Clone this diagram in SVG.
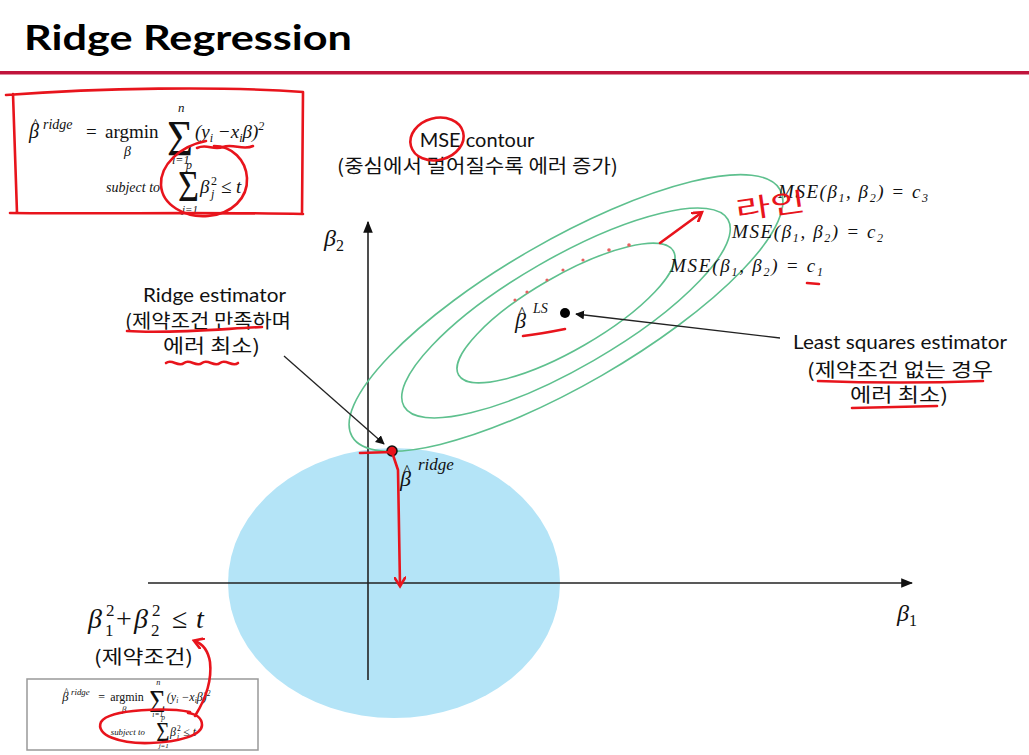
<svg xmlns="http://www.w3.org/2000/svg" xmlns:xlink="http://www.w3.org/1999/xlink" width="1029" height="755" viewBox="0 0 1029 755">
<style>
.ttl{font-family:Lato,"Open Sans",sans-serif;font-weight:bold;font-size:35px;fill:#000}
.lbl{font-family:Lato,"Noto Sans CJK KR",sans-serif;font-size:20px;fill:#111}
.kr{font-family:"Noto Sans CJK KR",sans-serif;font-size:19px;fill:#111}
.m{font-family:"Liberation Serif","DejaVu Serif",serif;font-style:italic;fill:#111}
.mr{font-family:"Liberation Serif","DejaVu Serif",serif;fill:#111}
.ell{fill:none;stroke:#5ec08e;stroke-width:1.6}
.ax{stroke:#222;stroke-width:1.6;fill:none}
.red{fill:none;stroke:#e8141c;stroke-width:2.6;stroke-linecap:round;stroke-linejoin:round}
.ptr{stroke:#222;stroke-width:1.3;fill:none}
</style>
<defs>
<marker id="ah" viewBox="0 0 10 10" refX="9" refY="5" markerWidth="9" markerHeight="9" markerUnits="userSpaceOnUse" orient="auto"><path d="M0,0 L10,5 L0,10 z" fill="#111"/></marker>
<marker id="axh" viewBox="0 0 10 10" refX="9" refY="5" markerWidth="12" markerHeight="12" markerUnits="userSpaceOnUse" orient="auto"><path d="M0,1 L10,5 L0,9 z" fill="#111"/></marker>
<marker id="rh" viewBox="0 0 10 10" refX="7" refY="5" markerWidth="12" markerHeight="12" markerUnits="userSpaceOnUse" orient="auto"><path d="M0,0 L8,5 L0,10" fill="none" stroke="#e8141c" stroke-width="2.2"/></marker>
<g id="formula">
<text class="m" x="29" y="138" font-size="20">β</text>
<text class="mr" x="32" y="129" font-size="15">^</text>
<text class="m" x="43" y="129" font-size="14">ridge</text>
<text class="mr" x="86" y="138" font-size="19">=</text>
<text class="mr" x="105" y="138" font-size="19">argmin</text>
<text class="m" x="124" y="156" font-size="14">β</text>
<text class="mr" x="167" y="155" font-size="50" textLength="26" lengthAdjust="spacingAndGlyphs">Σ</text>
<text class="m" x="178" y="112" font-size="13">n</text>
<text class="m" x="172" y="164" font-size="12">i=1</text>
<text class="m" x="195" y="138" font-size="19">(y<tspan font-size="12" dy="4">i</tspan><tspan dy="-4"> −x</tspan><tspan font-size="12" dy="4">i</tspan><tspan dy="-4">β)</tspan><tspan font-size="12" dy="-8">2</tspan></text>
<text class="m" x="106" y="192" font-size="14">subject to</text>
<text class="mr" x="178" y="201" font-size="44" textLength="21" lengthAdjust="spacingAndGlyphs">Σ</text>
<text class="m" x="186" y="169" font-size="12">p</text>
<text class="m" x="182" y="213" font-size="11">j=1</text>
<text class="m" x="200" y="193" font-size="19">β</text>
<text class="m" x="211" y="198" font-size="12">j</text>
<text class="mr" x="211" y="185" font-size="12">2</text>
<text class="mr" x="221" y="193" font-size="19">≤</text>
<text class="m" x="236" y="193" font-size="19">t</text>
</g>
</defs>

<rect width="1029" height="755" fill="#fff"/>

<g id="title">
<text class="ttl" x="24" y="50" textLength="328" lengthAdjust="spacingAndGlyphs">Ridge Regression</text>
<rect x="0" y="71" width="1029" height="3.5" fill="#c0143c"/>
</g>

<g id="constraint-region">
<ellipse cx="394" cy="583" rx="166" ry="135" fill="#b4e4f7"/>
</g>

<g id="axes">
<line class="ax" x1="148" y1="583" x2="912" y2="583" marker-end="url(#axh)"/>
<line class="ax" x1="368" y1="680" x2="368" y2="222" marker-end="url(#axh)"/>
<text class="m" x="324" y="246" font-size="24">β<tspan font-style="normal" font-size="16" dy="5">2</tspan></text>
<text class="m" x="897" y="621" font-size="24">β<tspan font-style="normal" font-size="16" dy="5">1</tspan></text>
</g>

<g id="mse-contours">
<ellipse class="ell" cx="566" cy="313" rx="124" ry="37" transform="rotate(-30 566 313)"/>
<ellipse class="ell" cx="566" cy="313" rx="187" ry="55" transform="rotate(-30 566 313)"/>
<ellipse class="ell" cx="566" cy="313" rx="247" ry="72" transform="rotate(-30 566 313)"/>
</g>

<g id="connectors">
<line class="ptr" x1="780" y1="338" x2="576" y2="314" marker-end="url(#ah)"/>
<line class="ptr" x1="284" y1="356" x2="384" y2="444" marker-end="url(#ah)"/>
</g>

<g id="ls-estimator">
<circle cx="565" cy="313" r="5" fill="#000"/>
<text class="m" x="515" y="328" font-size="22">β</text>
<text class="mr" x="518" y="318" font-size="17">^</text>
<text class="m" x="533" y="313" font-size="14">LS</text>
</g>

<g id="ridge-estimator">
<circle cx="392" cy="451" r="5" fill="#e8141c" stroke="#111" stroke-width="1.5"/>
<text class="m" x="400" y="486" font-size="22">β</text>
<text class="mr" x="403" y="476" font-size="17">^</text>
<text class="m" x="418" y="470" font-size="17">ridge</text>
</g>

<g id="mse-labels">
<text class="m" x="778" y="198" font-size="19" textLength="150" lengthAdjust="spacing">MSE(β<tspan font-size="12" dy="4">1</tspan><tspan dy="-4">, β</tspan><tspan font-size="12" dy="4">2</tspan><tspan dy="-4">) = c</tspan><tspan font-size="12" dy="4">3</tspan></text>
<text class="m" x="732" y="238" font-size="19" textLength="151" lengthAdjust="spacing">MSE(β<tspan font-size="12" dy="4">1</tspan><tspan dy="-4">, β</tspan><tspan font-size="12" dy="4">2</tspan><tspan dy="-4">) = c</tspan><tspan font-size="12" dy="4">2</tspan></text>
<text class="m" x="670" y="272" font-size="19" textLength="153" lengthAdjust="spacing">MSE(β<tspan font-size="12" dy="4">1</tspan><tspan dy="-4">, β</tspan><tspan font-size="12" dy="4">2</tspan><tspan dy="-4">) = c</tspan><tspan font-size="12" dy="4">1</tspan></text>
</g>

<g id="mse-contour-label">
<text class="lbl" x="477" y="147" text-anchor="middle" font-size="19">MSE contour</text>
<text class="kr" x="337" y="173" textLength="281" lengthAdjust="spacingAndGlyphs">(중심에서 멀어질수록 에러 증가)</text>
</g>

<g id="ls-label">
<text class="lbl" x="793" y="349" textLength="214" lengthAdjust="spacingAndGlyphs">Least squares estimator</text>
<text class="kr" x="807" y="377" textLength="186" lengthAdjust="spacingAndGlyphs">(제약조건 없는 경우</text>
<text class="kr" x="850" y="402" textLength="98" lengthAdjust="spacingAndGlyphs">에러 최소)</text>
</g>

<g id="ridge-label">
<text class="lbl" x="143" y="302" textLength="143" lengthAdjust="spacingAndGlyphs">Ridge estimator</text>
<text class="kr" x="125" y="328" textLength="166" lengthAdjust="spacingAndGlyphs">(제약조건 만족하며</text>
<text class="kr" x="163" y="353" textLength="97" lengthAdjust="spacingAndGlyphs">에러 최소)</text>
</g>

<g id="constraint-label">
<text class="m" x="88" y="628" font-size="28">β</text>
<text class="mr" x="106" y="616" font-size="17">2</text>
<text class="mr" x="105" y="636" font-size="17">1</text>
<text class="mr" x="116" y="628" font-size="28">+</text>
<text class="m" x="134" y="628" font-size="28">β</text>
<text class="mr" x="152" y="616" font-size="17">2</text>
<text class="mr" x="151" y="636" font-size="17">2</text>
<text class="mr" x="172" y="628" font-size="28">≤</text>
<text class="m" x="196" y="628" font-size="28">t</text>
<text class="kr" x="94" y="664" textLength="99" lengthAdjust="spacingAndGlyphs">(제약조건)</text>
</g>

<g id="formula-top">
<use xlink:href="#formula"/>
</g>

<g id="formula-bottom">
<rect x="27" y="679" width="231" height="71" fill="#fff" stroke="#999" stroke-width="1.5"/>
<use xlink:href="#formula" transform="translate(44 614) scale(0.63)"/>
</g>

<g id="annotations">
<path class="red" d="M6,95 C100,88 220,86 303,92 L302,214 M13,94 L17,213 M10,213 C100,214 220,212 303,214"/>
<path class="red" d="M206,141 C180,146 160,165 161,185 C162,205 185,218 208,216 C232,214 248,198 247,178 C246,160 232,146 214,146"/>
<path class="red" d="M197,148 C207,143 213,151 223,147 C233,143 243,151 253,146" stroke-width="1.8"/>
<ellipse class="red" cx="437" cy="139" rx="27" ry="21" transform="rotate(-15 437 139)"/>
<text x="735" y="215" font-family="'Noto Sans CJK KR',sans-serif" font-size="26" fill="#e8141c" textLength="70" lengthAdjust="spacingAndGlyphs" transform="rotate(-8 770 203)">라인</text>
<path class="red" d="M660,243 L701,213" marker-end="url(#rh)"/>
<g fill="#e86060">
<circle cx="515" cy="300" r="1.6"/><circle cx="527" cy="292" r="1.6"/><circle cx="547" cy="280" r="1.6"/><circle cx="563" cy="270" r="1.6"/><circle cx="583" cy="260" r="1.6"/><circle cx="609" cy="250" r="1.8"/><circle cx="629" cy="245" r="1.8"/>
</g>
<path class="red" d="M807,283 L819,284"/>
<path class="red" d="M523,336 C540,334 555,331 565,329"/>
<path class="red" d="M127,331 C170,334 220,329 262,327"/>
<path class="red" d="M166,363 C172,358 178,368 184,363 C190,358 196,368 202,363 C208,358 214,368 220,363 C226,358 232,368 238,363"/>
<path class="red" d="M818,381 C870,383 930,383 983,381"/>
<path class="red" d="M852,408 L937,406"/>
<path class="red" d="M360,453 L392,452 L398,470 L400,585" marker-end="url(#rh)"/>
<path class="red" d="M195,716 C205,700 212,680 210,662 C208,650 203,644 195,641" marker-end="url(#rh)"/>
<path class="red" d="M190,712 C170,708 110,708 101,722 C95,735 120,744 150,743 C180,742 202,735 202,725 C202,718 196,714 188,713"/>
</g>
</svg>
